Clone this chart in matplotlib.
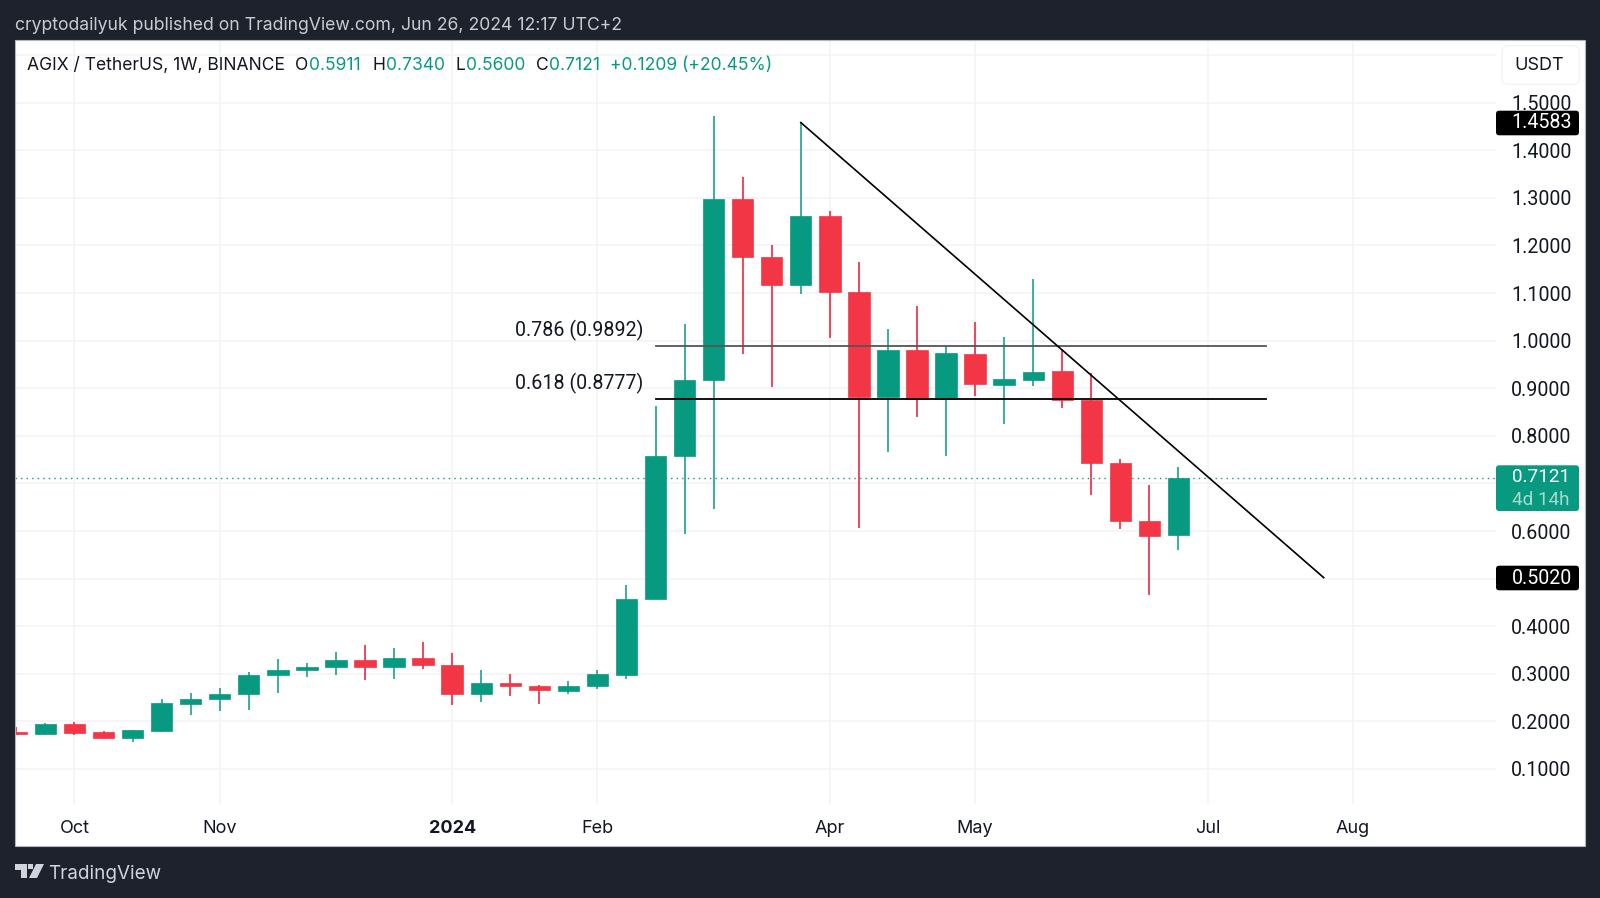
import matplotlib
matplotlib.use("Agg")
import matplotlib.pyplot as plt
from matplotlib.patches import FancyBboxPatch, Rectangle, Polygon

plt.rcParams['font.family'] = ['Inter', 'DejaVu Sans']

W, H = 1600, 898
GREEN = "#089981"
RED = "#F23645"
RED_WICK = "#F0142F"
DARK = "#1E222D"
GRID = "#F2F3F5"
INK = "#131722"
NUM = ['Roboto', 'DejaVu Sans']

# weekly candles, week 0 = 2 Oct 2023
weeks = list(range(-2, 39))
opens = [0.1777, 0.1742, 0.1945, 0.1770, 0.1651, 0.1805, 0.2372, 0.2463, 0.2575, 0.2967,
         0.3072, 0.3135, 0.3282, 0.3149, 0.3325, 0.3191, 0.2575, 0.2799, 0.2750, 0.2645,
         0.2743, 0.2974, 0.4571, 0.7576, 0.9180, 1.2984, 1.1751, 1.1177, 1.2627, 1.1016,
         0.8809, 0.9804, 0.8767, 0.9727, 0.9068, 0.9180, 0.9356, 0.8753, 0.7429, 0.6211, 0.5911]
highs = [0.1889, 0.1959, 0.1980, 0.1791, 0.1819, 0.2470, 0.2596, 0.2701, 0.3044, 0.3303,
         0.3233, 0.3451, 0.3598, 0.3535, 0.3668, 0.3437, 0.3079, 0.2988, 0.2764, 0.2848,
         0.3079, 0.4866, 0.8627, 1.0350, 1.4721, 1.3432, 1.2017, 1.4581, 1.2732, 1.1653,
         1.0245, 1.0735, 0.9888, 1.0399, 1.0070, 1.1289, 0.9818, 0.9314, 0.7513, 0.6960, 0.7340]
lows = [0.1735, 0.1714, 0.1721, 0.1622, 0.1573, 0.1770, 0.2134, 0.2218, 0.2239, 0.2603,
        0.2939, 0.2974, 0.2869, 0.2890, 0.3100, 0.2351, 0.2400, 0.2533, 0.2365, 0.2568,
        0.2680, 0.2897, 0.4571, 0.5937, 0.6470, 0.9720, 0.9033, 1.0980, 1.0056, 0.6064,
        0.7667, 0.8403, 0.7569, 0.8844, 0.8256, 0.9047, 0.8592, 0.6757, 0.6036, 0.4663, 0.5600]
closes = [0.1735, 0.1945, 0.1763, 0.1651, 0.1819, 0.2379, 0.2470, 0.2582, 0.2974, 0.3079,
          0.3142, 0.3282, 0.3149, 0.3325, 0.3184, 0.2582, 0.2799, 0.2743, 0.2652, 0.2750,
          0.2988, 0.4571, 0.7576, 0.9180, 1.2984, 1.1751, 1.1177, 1.2627, 1.1016, 0.8809,
          0.9804, 0.8767, 0.9734, 0.9082, 0.9187, 0.9342, 0.8746, 0.7422, 0.6211, 0.5895, 0.7121]

# 0.5000 and 0.7000 sit under the price tags, so they get no text
price_ticks = [0.1, 0.2, 0.3, 0.4, 0.5, 0.6, 0.7, 0.8, 0.9, 1.0, 1.1, 1.2, 1.3, 1.4, 1.5, 1.6]
price_labels = ["0.1000", "0.2000", "0.3000", "0.4000", "", "0.6000", "", "0.8000",
                "0.9000", "1.0000", "1.1000", "1.2000", "1.3000", "1.4000", "1.5000", ""]
time_ticks = [0, 5, 13, 18, 26, 31, 39, 44]
time_labels = ["Oct", "Nov", "2024", "Feb", "Apr", "May", "Jul", "Aug"]

fib_levels = [0.9892, 0.8777]
fib_names = ["0.786 (0.9892)", "0.618 (0.8777)"]
fib_weeks = [20, 41]
trend_weeks = [25, 43]
trend_prices = [1.4583, 0.5020]
last_close = 0.7121


def fx(x):
    return x / W


def fy(y):
    return 1 - y / H


def label(x, y, s, color=INK, size=12.6, ha="left", **kw):
    return fig.text(fx(x), fy(y), s, color=color, fontsize=size, ha=ha, va="center", **kw)


def tag(x0, y0, x1, y1, color):
    fig.patches.append(FancyBboxPatch((fx(x0), fy(y1)), fx(x1 - x0), (y1 - y0) / H,
                                      boxstyle="round,pad=0,rounding_size=0.002",
                                      mutation_aspect=1.78, fc=color, ec="none",
                                      transform=fig.transFigure, figure=fig, zorder=2))


fig = plt.figure(figsize=(W / 100, H / 100), dpi=100, facecolor=DARK)

# white panel behind plot and both scales, border goes on top of the axes
fig.patches.append(Rectangle((fx(15), fy(846)), fx(1570), 806 / H, fc="white", ec="none",
                             transform=fig.transFigure, figure=fig, zorder=-1))
fig.patches.append(Rectangle((fx(15), fy(846)), fx(1570), 806 / H, fc="none", ec="#B2B5BE",
                             lw=0.8, transform=fig.transFigure, figure=fig, zorder=1))

ax = fig.add_axes([fx(15), fy(804), fx(1481), 764 / H])
ax.set_xlim(-2.048, 48.93)
ax.set_ylim(0.0264, 1.6317)
for s in ax.spines.values():
    s.set_visible(False)

ax.set_axisbelow(True)
ax.grid(True, color=GRID, lw=1.1)
ax.set_yticks(price_ticks, price_labels)
ax.set_xticks(time_ticks, time_labels)
ax.yaxis.tick_right()
ax.tick_params(axis="y", length=0, pad=11, labelsize=14.1, labelcolor=INK)
ax.tick_params(axis="x", length=0, pad=11.5, labelsize=13, labelcolor=INK)
for t in ax.get_yticklabels():
    t.set_family(NUM)
for t in ax.get_xticklabels():
    if t.get_text() == "2024":
        t.set_fontweight("bold")

for w, o, h, l, c in zip(weeks, opens, highs, lows, closes):
    up = c >= o
    ax.vlines(w, l, h, color=GREEN if up else RED_WICK, lw=1.1, zorder=2)
    ax.bar(w, abs(c - o), bottom=min(o, c), width=0.735, color=GREEN if up else RED,
           edgecolor=GREEN if up else RED, lw=0.5, zorder=3)

ax.axhline(last_close, color=GREEN, lw=1, ls=(0, (1, 3)), zorder=2)
ax.plot(fib_weeks, [fib_levels[0]] * 2, color="#555555", lw=1.3, zorder=4)
ax.plot(fib_weeks, [fib_levels[1]] * 2, color="black", lw=1.3, zorder=4)
ax.plot(trend_weeks, trend_prices, color="black", lw=1.2, zorder=4)
for lev, name in zip(fib_levels, fib_names):
    ax.annotate(name, (fib_weeks[0], lev), xytext=(-9, 11), textcoords="offset points",
                ha="right", va="center", fontsize=14.1, color=INK, family=NUM)

# price tags on the scale
tag(1496, 110.7, 1579, 135.3, "black")
tag(1496, 565.7, 1579, 590.3, "black")
tag(1496, 465.3, 1579, 511, GREEN)
label(1511.7, 123, "1.4583", color="white", size=14.1, family=NUM).set_zorder(3)
label(1511.7, 578, "0.5020", color="white", size=14.1, family=NUM).set_zorder(3)
label(1511.7, 477.5, "0.7121", color="white", size=13.6, family=NUM).set_zorder(3)
label(1511.7, 500, "4d 14h", color="#A6DBD0", size=13.6, family=NUM).set_zorder(3)

fig.patches.append(FancyBboxPatch((fx(1502), fy(84.3)), fx(77.3), 38.6 / H,
                                  boxstyle="round,pad=0,rounding_size=0.004", mutation_aspect=1.78,
                                  fc="white", ec=GRID, lw=1, transform=fig.transFigure,
                                  figure=fig, zorder=2))
label(1539.5, 66, "USDT", ha="center", size=13).set_zorder(3)

# top strip and legend row
label(15, 26, "cryptodailyuk published on TradingView.com, Jun 26, 2024 12:17 UTC+2", color="#C9CBD1", size=12.7)
label(27, 65.5, "AGIX / TetherUS, 1W, BINANCE")
for x, s, col in [(295, "O", INK), (309, "0.5911", GREEN), (373, "H", INK), (386, "0.7340", GREEN),
                  (455.6, "L", INK), (466, "0.5600", GREEN), (535.7, "C", INK), (548.5, "0.7121", GREEN),
                  (610, "+0.1209 (+20.45%)", GREEN)]:
    label(x, 65.5, s, color=col)

# TradingView mark
logo = "#D1D4DC"
fig.patches.append(Polygon([(fx(15), fy(864)), (fx(27), fy(864)), (fx(27), fy(878)), (fx(21), fy(878)),
                            (fx(21), fy(870)), (fx(15), fy(870))], fc=logo, ec="none",
                           transform=fig.transFigure, figure=fig))
fig.patches.append(Polygon([(fx(36), fy(864)), (fx(44), fy(864)), (fx(37), fy(878)), (fx(29), fy(878))],
                           fc=logo, ec="none", transform=fig.transFigure, figure=fig))
fig.patches.append(Rectangle((fx(28), fy(869)), fx(5), 5 / H, fc=logo, ec="none",
                             transform=fig.transFigure, figure=fig))
label(48, 874, "TradingView", color=logo, size=13.6)

fig.savefig("out.png", dpi=100, facecolor=DARK)
